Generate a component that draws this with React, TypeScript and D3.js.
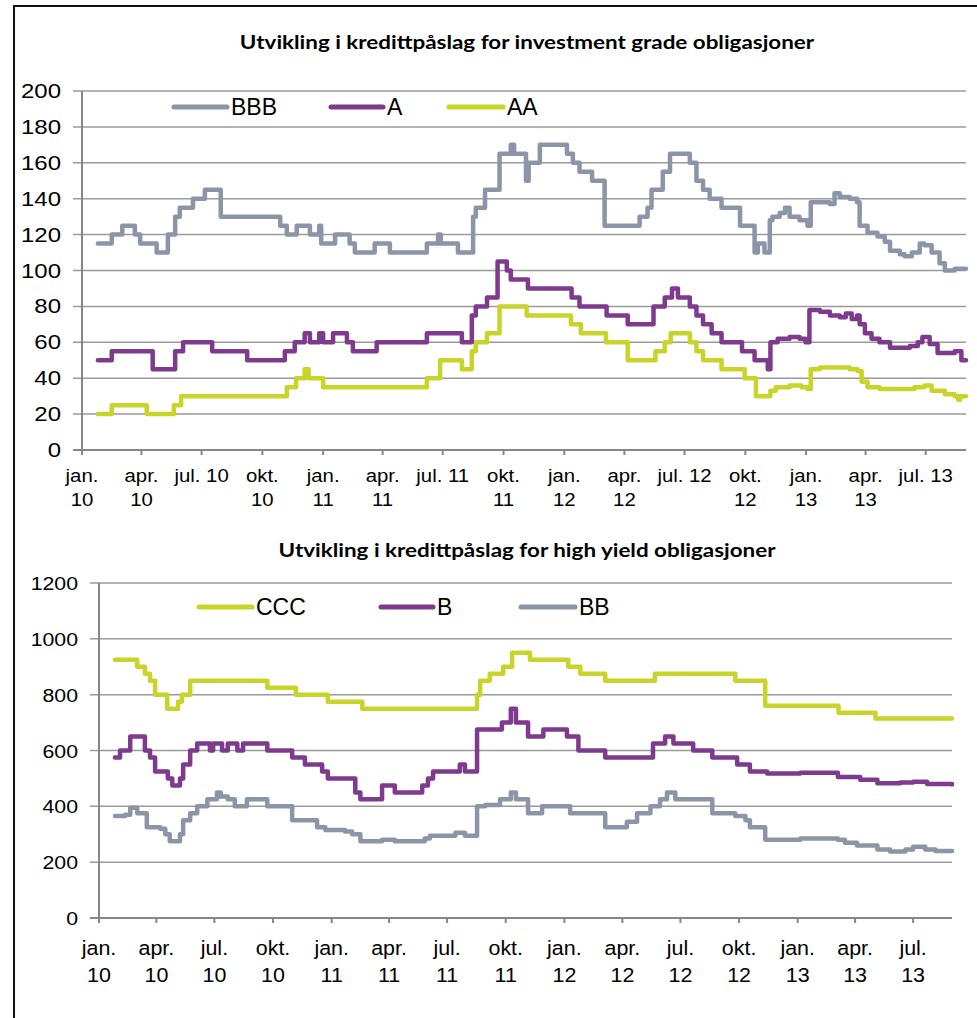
import React from 'react';
import * as d3 from 'd3';

type Pt = [string, number];

// investment grade (top chart)
const bbb: Pt[] = [
  ['2010-01-25', 115], ['2010-02-15', 120], ['2010-03-03', 125], ['2010-03-22', 120], ['2010-03-30', 115],
  ['2010-04-24', 110], ['2010-05-11', 120], ['2010-05-22', 130], ['2010-05-29', 135], ['2010-06-18', 140],
  ['2010-07-06', 145], ['2010-07-30', 130], ['2010-10-28', 125], ['2010-11-07', 120], ['2010-11-22', 125],
  ['2010-12-12', 120], ['2010-12-26', 125], ['2010-12-29', 115], ['2011-01-19', 120], ['2011-02-10', 115],
  ['2011-02-18', 110], ['2011-03-20', 115], ['2011-04-12', 110], ['2011-06-07', 115], ['2011-06-24', 120],
  ['2011-06-28', 115], ['2011-07-24', 110], ['2011-08-16', 130], ['2011-08-20', 135], ['2011-09-03', 145],
  ['2011-09-25', 165], ['2011-10-12', 170], ['2011-10-17', 165], ['2011-11-04', 150], ['2011-11-08', 160],
  ['2011-11-25', 170], ['2012-01-05', 165], ['2012-01-14', 160], ['2012-01-24', 155], ['2012-02-12', 150],
  ['2012-03-02', 125], ['2012-04-24', 130], ['2012-05-06', 135], ['2012-05-12', 145], ['2012-05-29', 155],
  ['2012-06-09', 165], ['2012-07-09', 160], ['2012-07-19', 150], ['2012-07-29', 145], ['2012-08-08', 140],
  ['2012-08-26', 135], ['2012-09-23', 125], ['2012-10-15', 110], ['2012-10-20', 115], ['2012-10-30', 110],
  ['2012-11-07', 128], ['2012-11-11', 130], ['2012-11-22', 132], ['2012-11-30', 135], ['2012-12-07', 130],
  ['2012-12-22', 128], ['2013-01-03', 125], ['2013-01-08', 138], ['2013-01-22', 138], ['2013-02-06', 137],
  ['2013-02-13', 143], ['2013-02-21', 141], ['2013-03-08', 140], ['2013-03-19', 138], ['2013-03-23', 125],
  ['2013-04-04', 121], ['2013-04-19', 119], ['2013-04-30', 116], ['2013-05-08', 111], ['2013-05-23', 109],
  ['2013-05-30', 108], ['2013-06-10', 110], ['2013-06-22', 115], ['2013-06-29', 114], ['2013-07-10', 110],
  ['2013-07-22', 104], ['2013-07-30', 100], ['2013-08-14', 101], ['2013-08-31', 101],
];

const a: Pt[] = [
  ['2010-01-25', 50], ['2010-02-15', 55], ['2010-04-18', 45], ['2010-05-22', 55], ['2010-06-03', 60],
  ['2010-07-17', 55], ['2010-09-08', 50], ['2010-11-04', 55], ['2010-11-19', 60], ['2010-12-04', 65],
  ['2010-12-12', 60], ['2010-12-26', 65], ['2011-01-01', 60], ['2011-01-16', 65], ['2011-02-06', 60],
  ['2011-02-15', 55], ['2011-03-23', 60], ['2011-06-07', 65], ['2011-07-30', 60], ['2011-08-14', 75],
  ['2011-08-20', 80], ['2011-09-06', 85], ['2011-09-22', 105], ['2011-10-06', 100], ['2011-10-12', 95],
  ['2011-11-07', 90], ['2012-01-12', 85], ['2012-01-24', 80], ['2012-03-05', 75], ['2012-04-06', 70],
  ['2012-05-15', 80], ['2012-06-01', 85], ['2012-06-12', 90], ['2012-06-21', 85], ['2012-07-09', 80],
  ['2012-07-19', 75], ['2012-07-29', 70], ['2012-08-11', 65], ['2012-08-26', 60], ['2012-09-26', 55],
  ['2012-10-15', 50], ['2012-11-04', 45], ['2012-11-08', 60], ['2012-11-19', 62], ['2012-12-07', 63],
  ['2012-12-22', 62], ['2012-12-31', 60], ['2013-01-06', 78], ['2013-01-22', 77], ['2013-02-06', 75],
  ['2013-02-21', 74], ['2013-03-02', 76], ['2013-03-11', 73], ['2013-03-19', 75], ['2013-03-23', 70],
  ['2013-03-31', 65], ['2013-04-10', 62], ['2013-04-22', 60], ['2013-05-08', 57], ['2013-06-07', 58],
  ['2013-06-19', 60], ['2013-06-26', 63], ['2013-07-07', 59], ['2013-07-19', 54], ['2013-08-14', 55],
  ['2013-08-24', 50], ['2013-08-31', 50],
];

const aa: Pt[] = [
  ['2010-01-25', 20], ['2010-02-15', 25], ['2010-04-09', 20], ['2010-05-20', 25], ['2010-05-31', 30],
  ['2010-11-07', 35], ['2010-11-21', 40], ['2010-12-04', 45], ['2010-12-10', 40], ['2011-01-01', 35],
  ['2011-06-07', 40], ['2011-06-27', 50], ['2011-07-30', 45], ['2011-08-14', 55], ['2011-08-20', 60],
  ['2011-09-06', 65], ['2011-09-25', 80], ['2011-11-05', 75], ['2012-01-11', 70], ['2012-01-26', 65],
  ['2012-03-04', 60], ['2012-04-06', 50], ['2012-05-18', 55], ['2012-06-01', 60], ['2012-06-10', 65],
  ['2012-07-09', 60], ['2012-07-19', 55], ['2012-07-29', 50], ['2012-08-26', 45], ['2012-09-30', 40],
  ['2012-10-17', 30], ['2012-11-08', 33], ['2012-11-16', 35], ['2012-12-07', 36], ['2012-12-25', 35],
  ['2013-01-03', 34], ['2013-01-08', 45], ['2013-01-22', 46], ['2013-03-08', 45], ['2013-03-20', 44],
  ['2013-03-26', 38], ['2013-04-04', 35], ['2013-04-22', 34], ['2013-06-14', 35], ['2013-06-29', 36],
  ['2013-07-10', 33], ['2013-07-30', 31], ['2013-08-14', 30], ['2013-08-19', 28], ['2013-08-22', 30],
  ['2013-08-31', 30],
];

// high yield (bottom chart)
const ccc: Pt[] = [
  ['2010-01-26', 925], ['2010-03-02', 900], ['2010-03-14', 875], ['2010-03-22', 850], ['2010-03-30', 800],
  ['2010-04-18', 750], ['2010-05-05', 775], ['2010-05-11', 800], ['2010-05-24', 850], ['2010-09-22', 825],
  ['2010-11-06', 800], ['2010-12-26', 775], ['2011-02-18', 750], ['2011-08-17', 800], ['2011-08-22', 850],
  ['2011-09-06', 875], ['2011-09-27', 900], ['2011-10-11', 950], ['2011-11-08', 925], ['2012-01-07', 900],
  ['2012-01-26', 875], ['2012-03-05', 850], ['2012-05-22', 875], ['2012-09-25', 850], ['2012-11-11', 760],
  ['2013-03-06', 735], ['2013-05-03', 715], ['2013-08-31', 715],
];

const b: Pt[] = [
  ['2010-01-26', 575], ['2010-02-03', 600], ['2010-02-19', 650], ['2010-03-14', 600], ['2010-03-22', 575],
  ['2010-03-30', 525], ['2010-04-19', 500], ['2010-04-26', 475], ['2010-05-08', 500], ['2010-05-13', 550],
  ['2010-05-24', 600], ['2010-06-04', 625], ['2010-06-24', 600], ['2010-06-29', 625], ['2010-07-13', 600],
  ['2010-07-22', 625], ['2010-08-06', 600], ['2010-08-15', 625], ['2010-09-22', 600], ['2010-10-31', 575],
  ['2010-11-20', 550], ['2010-12-17', 525], ['2010-12-26', 500], ['2011-02-07', 450], ['2011-02-15', 425],
  ['2011-03-21', 475], ['2011-04-10', 450], ['2011-05-23', 475], ['2011-06-01', 500], ['2011-06-09', 525],
  ['2011-07-21', 550], ['2011-07-29', 525], ['2011-08-17', 675], ['2011-09-25', 700], ['2011-10-09', 750],
  ['2011-10-17', 700], ['2011-11-05', 650], ['2011-11-29', 675], ['2012-01-05', 650], ['2012-01-23', 600],
  ['2012-03-05', 575], ['2012-05-19', 625], ['2012-06-07', 650], ['2012-06-20', 625], ['2012-07-21', 600],
  ['2012-08-20', 575], ['2012-09-28', 550], ['2012-10-18', 525], ['2012-11-14', 518], ['2013-01-05', 520],
  ['2013-03-05', 505], ['2013-04-09', 495], ['2013-05-06', 483], ['2013-06-11', 485], ['2013-07-01', 488],
  ['2013-07-23', 480], ['2013-08-31', 478],
];

const bb: Pt[] = [
  ['2010-01-26', 365], ['2010-02-11', 370], ['2010-02-19', 395], ['2010-03-02', 375], ['2010-03-17', 325],
  ['2010-04-07', 320], ['2010-04-15', 300], ['2010-04-22', 275], ['2010-05-08', 300], ['2010-05-13', 350],
  ['2010-05-24', 375], ['2010-06-04', 400], ['2010-06-20', 425], ['2010-07-05', 450], ['2010-07-11', 435],
  ['2010-07-22', 425], ['2010-08-02', 400], ['2010-08-21', 425], ['2010-09-22', 400], ['2010-10-31', 350],
  ['2010-12-09', 325], ['2010-12-22', 315], ['2011-01-22', 310], ['2011-02-02', 300], ['2011-02-15', 275],
  ['2011-03-21', 280], ['2011-04-10', 275], ['2011-05-27', 285], ['2011-06-04', 295], ['2011-07-14', 305],
  ['2011-07-29', 295], ['2011-08-17', 400], ['2011-08-30', 405], ['2011-09-22', 425], ['2011-10-09', 450],
  ['2011-10-17', 425], ['2011-11-05', 375], ['2011-11-27', 400], ['2012-01-10', 375], ['2012-03-05', 325],
  ['2012-04-08', 345], ['2012-04-24', 375], ['2012-05-15', 400], ['2012-05-30', 425], ['2012-06-10', 450],
  ['2012-06-23', 425], ['2012-08-20', 375], ['2012-09-25', 365], ['2012-10-11', 350], ['2012-10-18', 325],
  ['2012-11-11', 280], ['2013-01-05', 285], ['2013-03-05', 280], ['2013-03-16', 270], ['2013-04-04', 260],
  ['2013-05-06', 245], ['2013-05-26', 238], ['2013-06-19', 245], ['2013-07-01', 255], ['2013-07-20', 245],
  ['2013-08-05', 240], ['2013-08-31', 240],
];

const topTicks = [0, 20, 40, 60, 80, 100, 120, 140, 160, 180, 200];
const bottomTicks = [0, 200, 400, 600, 800, 1000, 1200];

const topTickLabels = [
  ['jan.', '10'], ['apr.', '10'], ['jul. 10'], ['okt.', '10'],
  ['jan.', '11'], ['apr.', '11'], ['jul. 11'], ['okt.', '11'],
  ['jan.', '12'], ['apr.', '12'], ['jul. 12'], ['okt.', '12'],
  ['jan.', '13'], ['apr.', '13'], ['jul. 13'],
];
const bottomTickLabels = [
  ['jan.', '10'], ['apr.', '10'], ['jul.', '10'], ['okt.', '10'],
  ['jan.', '11'], ['apr.', '11'], ['jul.', '11'], ['okt.', '11'],
  ['jan.', '12'], ['apr.', '12'], ['jul.', '12'], ['okt.', '12'],
  ['jan.', '13'], ['apr.', '13'], ['jul.', '13'],
];

const GRAY = '#8b95a7';
const PURPLE = '#7e3a8d';
const GREEN = '#c9d42a';
const FONT = '"Liberation Sans", Arial, sans-serif';

const parse = d3.timeParse('%Y-%m-%d');
const domain = [parse('2010-01-01')!, parse('2013-08-31')!];
const quarters = d3.timeMonth.every(3)!.range(domain[0], parse('2013-08-01')!);

function SText(props: any) {
  const { x, y, sx = 1, size, anchor = 'start', weight = 'normal', family = FONT, children } = props;
  return (
    <text transform={`translate(${x},${y}) scale(${sx},1)`} fontSize={size} textAnchor={anchor}
      fontFamily={family} fontWeight={weight} fill="#000">{children}</text>
  );
}

function Chart(props: any) {
  const { left, right, top, bottom, max, ticks, labels, series, legend, title, titleY,
    ySize, ySx, xSize, xSx, xLine1, xLine2 } = props;
  const x = d3.scaleTime().domain(domain).range([left, right]);
  const y = d3.scaleLinear().domain([0, max]).range([bottom, top]);
  const line = d3.line<Pt>()
    .x(d => x(parse(d[0])!))
    .y(d => y(d[1]))
    .curve(d3.curveStepAfter);

  return (
    <g>
      <SText x={527} y={titleY} size={19} sx={1.18} anchor="middle" weight="bold"
        family='Lato, "Open Sans", sans-serif'>{title}</SText>
      {ticks.map((t: number) => (
        <g key={t}>
          <line x1={left - 9} x2={right} y1={y(t)} y2={y(t)} stroke={t === 0 ? '#868686' : '#9a9a9a'}
            strokeWidth={t === 0 ? 2 : 1.5} />
          <SText x={left - 21} y={y(t) + 7} size={ySize} sx={ySx} anchor="end">{t}</SText>
        </g>
      ))}
      <line x1={left} x2={left} y1={top} y2={bottom + 5} stroke="#868686" strokeWidth={2} />
      {quarters.map((q, i) => (
        <g key={i}>
          <line x1={x(q)} x2={x(q)} y1={bottom} y2={bottom + 5} stroke="#868686" strokeWidth={2} />
          {labels[i].map((s: string, j: number) => (
            <SText key={j} x={x(q)} y={j === 0 ? bottom + xLine1 : bottom + xLine2} size={xSize} sx={xSx}
              anchor="middle">{s}</SText>
          ))}
        </g>
      ))}
      {series.map((s: any) => (
        <path key={s.name} d={line(s.data) || ''} fill="none" stroke={s.color} strokeWidth={4.5}
          strokeLinejoin="round" strokeLinecap="round" />
      ))}
      {legend.map((l: any) => (
        <g key={l.name}>
          <line x1={l.x1} x2={l.x2} y1={l.y} y2={l.y} stroke={l.color} strokeWidth={5} strokeLinecap="round" />
          <SText x={l.x2 + 4} y={l.y + 8} size={23}>{l.name}</SText>
        </g>
      ))}
    </g>
  );
}

export default function App() {
  return (
    <svg width={977} height={1018} style={{ position: 'absolute', left: 0, top: 0, background: '#fff' }}>
      <rect x={0} y={0} width={977} height={1018} fill="#fff" />
      <line x1={14} x2={977} y1={6} y2={6} stroke="#111" strokeWidth={2} />
      <line x1={14} x2={14} y1={5} y2={1018} stroke="#111" strokeWidth={2} />
      <Chart
        left={82} right={966} top={91} bottom={450} max={200} ticks={topTicks} labels={topTickLabels}
        title="Utvikling i kredittpåslag for investment grade obligasjoner" titleY={49}
        ySize={20} ySx={1.2} xSize={18.5} xSx={1.1} xLine1={32} xLine2={56}
        series={[
          { name: 'AA', data: aa, color: GREEN },
          { name: 'A', data: a, color: PURPLE },
          { name: 'BBB', data: bbb, color: GRAY },
        ]}
        legend={[
          { name: 'BBB', x1: 174, x2: 227, y: 107, color: GRAY },
          { name: 'A', x1: 331, x2: 383, y: 107, color: PURPLE },
          { name: 'AA', x1: 449, x2: 503, y: 107, color: GREEN },
        ]}
      />
      <Chart
        left={99} right={952} top={583} bottom={918} max={1200} ticks={bottomTicks} labels={bottomTickLabels}
        title="Utvikling i kredittpåslag for high yield obligasjoner" titleY={557}
        ySize={18.5} ySx={1.15} xSize={19.5} xSx={1.1} xLine1={37} xLine2={64}
        series={[
          { name: 'BB', data: bb, color: GRAY },
          { name: 'B', data: b, color: PURPLE },
          { name: 'CCC', data: ccc, color: GREEN },
        ]}
        legend={[
          { name: 'CCC', x1: 199, x2: 252, y: 607, color: GREEN },
          { name: 'B', x1: 381, x2: 433, y: 607, color: PURPLE },
          { name: 'BB', x1: 521, x2: 575, y: 607, color: GRAY },
        ]}
      />
    </svg>
  );
}
